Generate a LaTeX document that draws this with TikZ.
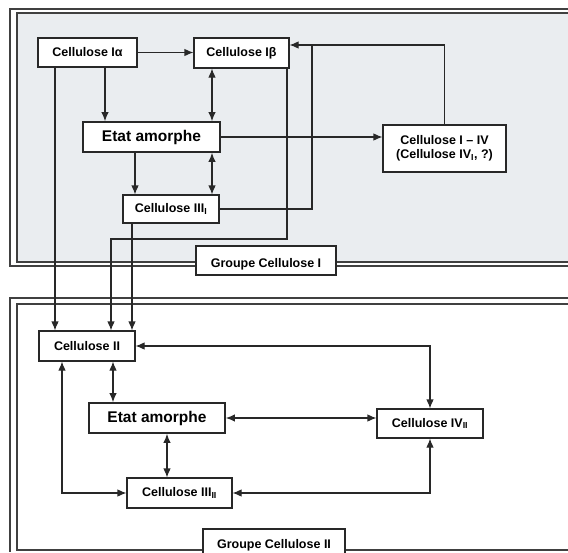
\documentclass[tikz,border=0pt]{standalone}
\usepackage{fontspec}
\setmainfont{Liberation Sans}
\usepackage{xcolor}
\usepackage{tikz}
\usetikzlibrary{arrows.meta}

\definecolor{panelgray}{RGB}{234,237,240}
\definecolor{inkgray}{RGB}{40,40,40}

\tikzset{
  cbox/.style={draw=inkgray, line width=1.1pt, fill=white, font=\fontsize{12.5}{14}\selectfont\bfseries, inner sep=0pt, align=center},
  abox/.style={cbox, line width=1.8pt, font=\fontsize{15.5}{17}\selectfont\bfseries},
  arr/.style={draw=inkgray, line width=1.1pt, -{Latex[length=9pt,width=7.5pt]}},
  dbl/.style={draw=inkgray, line width=1.1pt, {Latex[length=9pt,width=7.5pt]}-{Latex[length=9pt,width=7.5pt]}},
  frame/.style={draw=black!75, line width=1.3pt}
}

\begin{document}
\begin{tikzpicture}[x=1pt, y=-1pt]
  \useasboundingbox (0,0) rectangle (568,552);

  % Groupe Cellulose I
  \fill[panelgray] (17,13) rectangle (568,262);
  \draw[frame] (568,9) -| (10,266) -- (568,266);
  \draw[frame] (568,13) -| (17,262) -- (568,262);

  \node[cbox, minimum width=99pt, minimum height=29pt] (ia) at (87.5,52.5) {Cellulose Iα};
  \node[cbox, minimum width=95pt, minimum height=30pt] (ib) at (241.5,53) {Cellulose Iβ};
  \node[abox, minimum width=137pt, minimum height=30pt] (eta) at (151.5,137) {Etat amorphe};
  \node[cbox, minimum width=123pt, minimum height=47pt] (iiv) at (444.5,148.5) {Cellulose I -- IV\\(Cellulose IV\textsubscript{I}, ?)};
  \node[cbox, minimum width=96pt, minimum height=28pt] (iii1) at (171,209) {Cellulose III\textsubscript{I}};
  \node[cbox, minimum width=140pt, minimum height=29pt, text height=13pt, text depth=-1pt] (grp1) at (266,260.5) {Groupe Cellulose I};

  \coordinate (j1) at (312,45);
  \draw[arr] (ia.east) -- (ia.east -| ib.west);
  \draw[arr] (105,0 |- ia.south) -- (105,0 |- eta.north);
  \draw[dbl] (212,0 |- ib.south) -- (212,0 |- eta.north);
  \draw[arr] (eta.east) -- (eta.east -| iiv.west);
  \draw[draw=inkgray, line width=1.1pt] (iiv.north) |- (j1);
  \draw[draw=inkgray, line width=1.1pt] (iii1.east) -| (j1);
  \draw[arr] (j1) -- (j1 -| ib.east);
  \draw[arr] (135,0 |- eta.south) -- (135,0 |- iii1.north);
  \draw[dbl] (212,0 |- eta.south) -- (212,0 |- iii1.north);

  % Groupe Cellulose II
  \draw[frame] (568,298) -| (10,552);
  \draw[frame] (568,304) -| (17,550) -- (568,550);

  \node[cbox, minimum width=96pt, minimum height=30pt] (ii) at (87,346) {Cellulose II};
  \node[abox, minimum width=136pt, minimum height=30pt] (etb) at (157,418) {Etat amorphe};
  \node[cbox, minimum width=106pt, minimum height=29pt] (iv2) at (430,423.5) {Cellulose IV\textsubscript{II}};
  \node[cbox, minimum width=105pt, minimum height=30pt] (iii2) at (179.5,493) {Cellulose III\textsubscript{II}};
  \node[cbox, minimum width=142pt, minimum height=32pt] (grp2) at (274,545) {Groupe Cellulose II};

  % passages I -> II
  \draw[arr] (55,0 |- ia.south) -- (55,0 |- ii.north);
  \draw[arr] (287,0 |- ib.south) |- (111,239) -- (111,0 |- ii.north);
  \draw[arr] (132,0 |- iii1.south) -- (132,0 |- ii.north);

  \draw[dbl] (ii.east) -| (iv2.north);
  \draw[dbl] (113,0 |- ii.south) -- (113,0 |- etb.north);
  \draw[dbl] (etb.east) -- (etb.east -| iv2.west);
  \draw[dbl] (167,0 |- etb.south) -- (167,0 |- iii2.north);
  \draw[dbl] (62,0 |- ii.south) |- (iii2.west);
  \draw[dbl] (iii2.east) -| (iv2.south);
\end{tikzpicture}
\end{document}
